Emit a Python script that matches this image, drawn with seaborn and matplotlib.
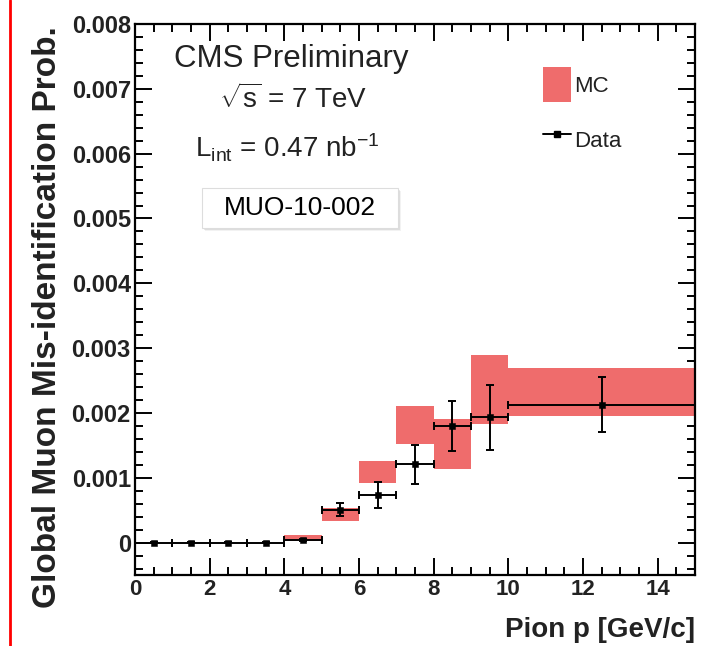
import numpy as np
import pandas as pd
import matplotlib
matplotlib.use("Agg")
import matplotlib.pyplot as plt
from matplotlib.patches import Rectangle, Patch
from matplotlib.lines import Line2D
from matplotlib.ticker import MultipleLocator, FixedFormatter, FixedLocator
import seaborn as sns

# Pion momentum bins [GeV/c]
bin_low = [0, 1, 2, 3, 4, 5, 6, 7, 8, 9, 10]
bin_high = [1, 2, 3, 4, 5, 6, 7, 8, 9, 10, 15]

# Measured mis-identification probability and its statistical error
data_prob = [0.0, 0.0, 0.0, 0.0, 0.00004, 0.00051, 0.00074, 0.00121, 0.00180, 0.00193, 0.00213]
data_err = [0.000005, 0.000005, 0.000005, 0.000005, 0.00002, 0.00010, 0.00020, 0.00030, 0.00039, 0.00050, 0.00042]

# Simulation band (lower / upper edge per bin)
mc_low = [0.0, 0.0, 0.0, 0.0, 0.00002, 0.00034, 0.00092, 0.00152, 0.00113, 0.00183, 0.00195]
mc_high = [0.0, 0.0, 0.0, 0.0, 0.00011, 0.00053, 0.00126, 0.00210, 0.00190, 0.00289, 0.00269]

y_ticks = [0.0, 0.001, 0.002, 0.003, 0.004, 0.005, 0.006, 0.007, 0.008]
y_tick_labels = ["0", "0.001", "0.002", "0.003", "0.004", "0.005", "0.006", "0.007", "0.008"]
x_ticks = [0, 2, 4, 6, 8, 10, 12, 14]

sns.set_theme(style="ticks")
plt.rcParams["font.family"] = ["Liberation Sans", "DejaVu Sans"]
plt.rcParams["mathtext.fontset"] = "custom"
plt.rcParams["mathtext.rm"] = "Liberation Sans"
plt.rcParams["mathtext.it"] = "Liberation Sans"
plt.rcParams["mathtext.bf"] = "Liberation Sans:bold"

df = pd.DataFrame({
    "low": bin_low, "high": bin_high,
    "prob": data_prob, "err": data_err,
    "mc_low": mc_low, "mc_high": mc_high,
})
df["center"] = (df["low"] + df["high"]) / 2
df["half"] = (df["high"] - df["low"]) / 2

fig = plt.figure(figsize=(7.15, 6.46), dpi=100)
ax = fig.add_axes([135 / 715, 1 - 575 / 646, 560 / 715, 551 / 646])

mc_color = "#EF6C6C"
ax.bar(df["low"], df["mc_high"] - df["mc_low"], bottom=df["mc_low"],
       width=df["high"] - df["low"], align="edge", color=mc_color,
       linewidth=0, zorder=1)

ax.errorbar(df["center"], df["prob"], xerr=df["half"], yerr=df["err"],
            fmt="none", ecolor="black", elinewidth=1.4, capsize=3,
            capthick=1.4, zorder=3)
sns.scatterplot(data=df, x="center", y="prob", marker="s", s=22,
                color="black", edgecolor="black", ax=ax, zorder=4, legend=False)

ax.set_xlim(0, 15)
ax.set_ylim(-0.0005, 0.008)

ax.xaxis.set_major_locator(FixedLocator(x_ticks))
ax.xaxis.set_minor_locator(MultipleLocator(0.5))
ax.yaxis.set_major_locator(FixedLocator(y_ticks))
ax.yaxis.set_major_formatter(FixedFormatter(y_tick_labels))
ax.yaxis.set_minor_locator(MultipleLocator(0.0002))

ax.tick_params(which="both", direction="in", top=True, right=True,
               color="black", width=1.4)
ax.tick_params(which="major", length=12, pad=3)
ax.tick_params(axis="x", which="major", labelsize=16)
ax.tick_params(axis="y", which="major", labelsize=17)
ax.tick_params(which="minor", length=6)
for lab in ax.get_xticklabels() + ax.get_yticklabels():
    lab.set_fontweight("bold")
    lab.set_color("#222222")
for sp in ax.spines.values():
    sp.set_linewidth(1.6)
    sp.set_color("black")

ax.set_ylabel("Global Muon Mis-identification Prob.", fontsize=24,
              fontweight="bold", color="#222222")
ax.yaxis.set_label_coords(-0.128, 0.468)
ax.set_xlabel("Pion p [GeV/c]", fontsize=20, fontweight="bold",
              color="#222222", ha="right", va="center")
ax.xaxis.set_label_coords(1.0, -0.1)

# Header text
ax.text(0.2795, 0.922, "CMS Preliminary", transform=ax.transAxes,
        ha="center", va="baseline", fontsize=22.5, color="#222222")
ax.text(0.283, 0.8475, r"$\sqrt{\mathrm{s}}$ = 7 TeV", transform=ax.transAxes,
        ha="center", va="baseline", fontsize=20, color="#222222")
ax.text(0.272, 0.757, r"L$_{\mathrm{int}}$ = 0.47 nb$^{\mathrm{-1}}$",
        transform=ax.transAxes, ha="center", va="baseline", fontsize=20,
        color="#222222")

# Analysis tag box with drop shadow
bx0, bx1 = (202 - 135) / 560, (398 - 135) / 560
by0, by1 = 1 - (228 - 24) / 551, 1 - (188 - 24) / 551
for i, a in enumerate([0.10, 0.18, 0.28]):
    off = (3 - i)
    ax.add_patch(Rectangle((bx0 + off / 560, by0 - off / 551), bx1 - bx0, by1 - by0,
                           transform=ax.transAxes, facecolor="#888888",
                           edgecolor="none", alpha=a, zorder=5))
ax.add_patch(Rectangle((bx0, by0), bx1 - bx0, by1 - by0, transform=ax.transAxes,
                       facecolor="white", edgecolor="#dddddd", linewidth=0.8,
                       zorder=6))
ax.text((bx0 + bx1) / 2, (by0 + by1) / 2, "MUO-10-002", transform=ax.transAxes,
        ha="center", va="center", fontsize=19, color="black", zorder=7)

# Legend
handles = [
    Patch(facecolor=mc_color, edgecolor="none", label="MC"),
    Line2D([], [], color="black", lw=1.4, marker="s", markersize=4, label="Data"),
]
leg = ax.legend(handles=handles, loc="upper left",
                bbox_to_anchor=((543 - 135) / 560, 1 - (67 - 24) / 551),
                frameon=False, fontsize=16, handlelength=1.25, handleheight=2.05,
                handletextpad=0.15, labelspacing=0.9, borderpad=0,
                borderaxespad=0, numpoints=1)
for t in leg.get_texts():
    t.set_color("#222222")

# Red margin line on the left edge
fig.add_artist(Line2D([10 / 715, 10 / 715], [0, 1], transform=fig.transFigure,
                      color="red", lw=2))

fig.savefig("out.png", dpi=100, facecolor="white")
